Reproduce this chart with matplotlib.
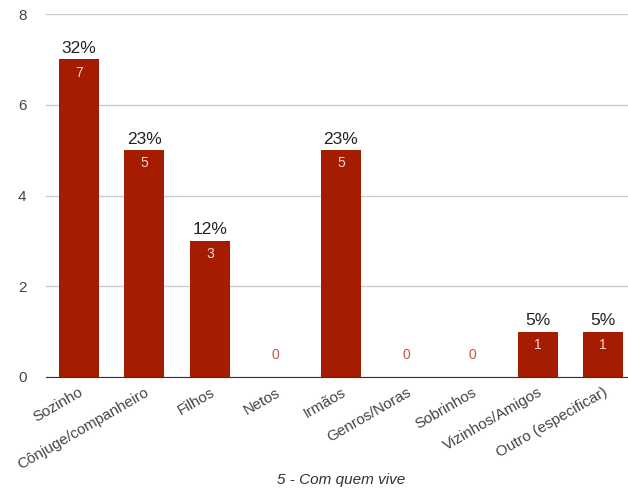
import matplotlib
matplotlib.use("Agg")
import matplotlib.pyplot as plt

plt.rcParams['font.family'] = ['Liberation Sans', 'DejaVu Sans']

categorias = ["Sozinho", "Cônjuge/companheiro", "Filhos", "Netos", "Irmãos",
              "Genros/Noras", "Sobrinhos", "Vizinhos/Amigos", "Outro (especificar)"]
valores = [7, 5, 3, 0, 5, 0, 0, 1, 1]
percentuais = ["32%", "23%", "12%", "", "23%", "", "", "5%", "5%"]

cor = "#a61c00"

fig = plt.figure(figsize=(6.28, 4.92), dpi=100)
ax = fig.add_axes([46 / 628, 115 / 492, 582 / 628, 363 / 492])

x = list(range(len(categorias)))
ax.bar(x, valores, width=0.61, color=cor, zorder=3)

for i, v in enumerate(valores):
    if v > 0:
        ax.annotate(str(v), (i, v), xytext=(0, -9.5), textcoords="offset points",
                    ha="center", va="center", color="#f4d6d0", fontsize=10, zorder=4)
        ax.annotate(percentuais[i], (i, v), xytext=(0, 8), textcoords="offset points",
                    ha="center", va="center", color="#222222", fontsize=12.5)
    else:
        ax.annotate("0", (i, 0), xytext=(0, 16), textcoords="offset points",
                    ha="center", va="center", color="#c8553d", fontsize=10)

ax.set_ylim(0, 8)
ax.set_xlim(-0.5, 8.38)
ax.set_yticks([0, 2, 4, 6, 8])
ax.set_xticks(x)
ax.set_xticklabels(categorias, rotation=30, ha="right", rotation_mode="anchor")
ax.tick_params(axis="both", length=0, labelsize=11, colors="#444444")
ax.tick_params(axis="x", pad=6)
ax.tick_params(axis="y", pad=14)
ax.grid(axis="y", color="#cccccc", linewidth=1, zorder=0)
for s in ["top", "right", "left"]:
    ax.spines[s].set_visible(False)
ax.spines["bottom"].set_color("#333333")
ax.spines["bottom"].set_zorder(5)

fig.text(341 / 628, 1 - 480 / 492, "5 - Com quem vive", ha="center", va="center",
         style="italic", fontsize=11, color="#333333")

fig.savefig("out.png", dpi=100)
